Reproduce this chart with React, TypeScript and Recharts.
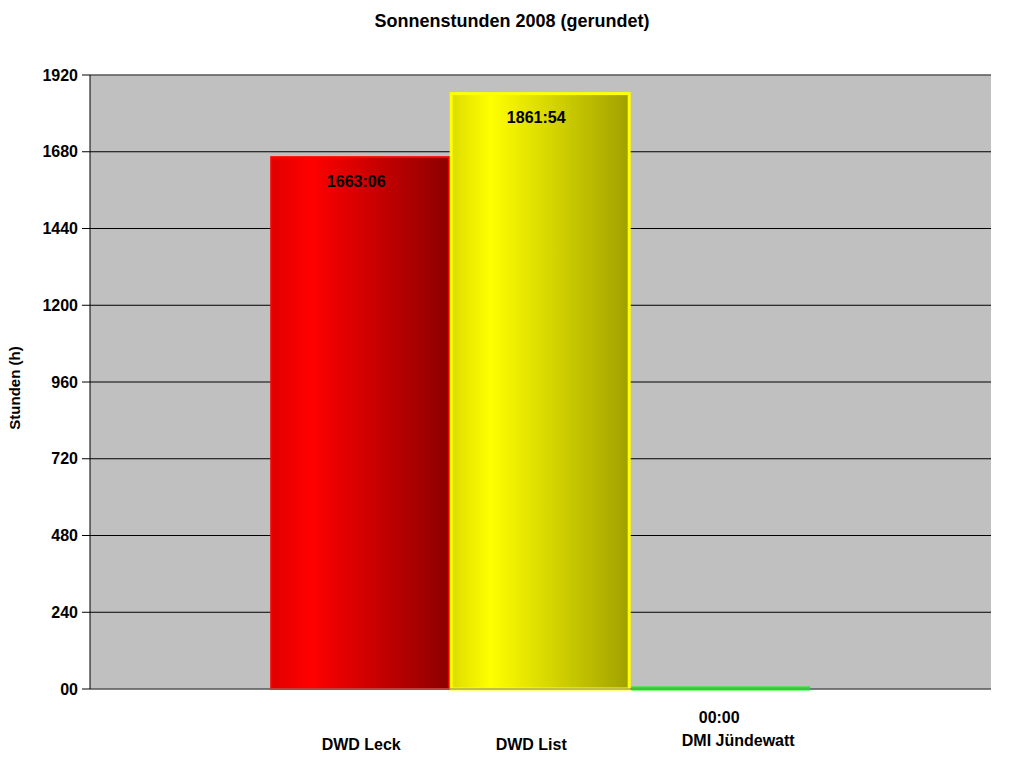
import React from 'react';
import {
  BarChart,
  Bar,
  XAxis,
  YAxis,
  CartesianGrid,
  LabelList,
  ReferenceLine,
} from 'recharts';

const categories = ['2008'];
const seriesNames = ['DWD Leck', 'DWD List', 'DMI Jündewatt'];
const seriesKeys = ['leck', 'list', 'juende'];
// Sonnenstunden in Stunden (1663:06 = 1663.1 h)
const leckValues = [1663.1];
const listValues = [1861.9];
const juendeValues = [0];
const yTicks = [0, 240, 480, 720, 960, 1200, 1440, 1680, 1920];

const data = categories.map((c, i) => ({
  name: c,
  leck: leckValues[i],
  list: listValues[i],
  juende: juendeValues[i],
}));

const FONT = '"Liberation Sans", Arial, sans-serif';

const pad = (n: number) => String(n).padStart(2, '0');
const toHhMm = (v: number) => {
  const h = Math.floor(v);
  const m = Math.round((v - h) * 60);
  return `${pad(h)}:${pad(m)}`;
};

const colors = [
  { id: 'gradRed', stroke: '#ff0000', stops: ['#e00000', '#ff0000', '#8c0000'] },
  { id: 'gradYellow', stroke: '#ffff00', stops: ['#dcdc00', '#ffff00', '#a0a000'] },
  { id: 'gradGreen', stroke: '#00ff00', stops: ['#00e000', '#00ff00', '#008c00'] },
];

const makeShape = (idx: number) => (props: any) => {
  const { x, y, width, height } = props;
  const c = colors[idx];
  if (!height || height < 1) {
    return <line x1={x + 1} x2={x + width} y1={y - 0.5} y2={y - 0.5} stroke={c.stroke} strokeWidth={4} />;
  }
  return (
    <rect
      x={x + 1}
      y={y}
      width={width - 2}
      height={height}
      fill={`url(#${c.id})`}
      stroke={c.stroke}
      strokeWidth={idx === 1 ? 3 : 2}
    />
  );
};

const valueLabel = (props: any) => {
  const { x, y, width, height, value } = props;
  const zero = !height || height < 1;
  return (
    <text
      x={x + width / 2 - (zero ? 1 : 4)}
      y={zero ? y + 28 : y + 24}
      textAnchor="middle"
      dominantBaseline="central"
      fontFamily={FONT}
      fontWeight="bold"
      fontSize={16}
      fill="#000"
    >
      {toHhMm(value)}
    </text>
  );
};

const nameLabel = (idx: number) => (props: any) => {
  const { x, y, width, height } = props;
  const shift = [1, -9, 18][idx];
  const dy = [55, 55, 51][idx];
  return (
    <text
      x={x + width / 2 + shift}
      y={y + (height || 0) + dy}
      textAnchor="middle"
      dominantBaseline="central"
      fontFamily={FONT}
      fontWeight="bold"
      fontSize={16}
      fill="#000"
    >
      {seriesNames[idx]}
    </text>
  );
};

export default function App() {
  return (
    <div style={{ position: 'absolute', left: 0, top: 0, width: 1024, height: 768, background: '#fff' }}>
      <div
        style={{
          position: 'absolute',
          top: 11,
          left: 0,
          width: 1024,
          textAlign: 'center',
          fontFamily: FONT,
          fontWeight: 'bold',
          fontSize: 18,
          lineHeight: '20px',
        }}
      >
        Sonnenstunden 2008 (gerundet)
      </div>
      <BarChart
        width={1024}
        height={768}
        data={data}
        margin={{ top: 75, right: 33, bottom: 49, left: 0 }}
        barCategoryGap="20%"
        barGap={0}
      >
        <defs>
          {colors.map((c) => (
            <linearGradient key={c.id} id={c.id} x1="0" y1="0" x2="1" y2="0">
              <stop offset="0%" stopColor={c.stops[0]} />
              <stop offset="22%" stopColor={c.stops[1]} />
              <stop offset="100%" stopColor={c.stops[2]} />
            </linearGradient>
          ))}
        </defs>
        <CartesianGrid
          yAxisId="left"
          vertical={false}
          stroke="#000"
          fill="#c0c0c0"
          fillOpacity={1}
        />
        <XAxis dataKey="name" tick={false} tickLine={false} axisLine={{ stroke: '#808080' }} height={30} />
        <YAxis
          yAxisId="left"
          width={90}
          domain={[0, 1920]}
          ticks={yTicks}
          interval={0}
          tickFormatter={(v: number) => (v === 0 ? '00' : String(v))}
          tick={{ fontFamily: FONT, fontWeight: 'bold', fontSize: 16, fill: '#000' }}
          tickSize={8}
          tickMargin={4}
          tickLine={{ stroke: '#000' }}
          axisLine={{ stroke: '#000' }}
          label={{
            value: 'Stunden (h)',
            angle: -90,
            position: 'insideLeft',
            dx: 10,
            dy: 6,
            style: { fontFamily: FONT, fontWeight: 'bold', fontSize: 15, fill: '#000', textAnchor: 'middle' },
          }}
        />
        <YAxis
          yAxisId="right"
          orientation="right"
          width={0}
          domain={[0, 1920]}
          tick={false}
          tickLine={false}
          axisLine={{ stroke: '#808080' }}
        />
        <ReferenceLine yAxisId="left" y={1920} stroke="#808080" />
        {seriesKeys.map((k, i) => (
          <Bar
            key={k}
            yAxisId="left"
            dataKey={k}
            name={seriesNames[i]}
            fill={colors[i].stroke}
            shape={makeShape(i)}
            isAnimationActive={false}
          >
            <LabelList dataKey={k} content={valueLabel} />
            <LabelList dataKey={k} content={nameLabel(i)} />
          </Bar>
        ))}
      </BarChart>
    </div>
  );
}
